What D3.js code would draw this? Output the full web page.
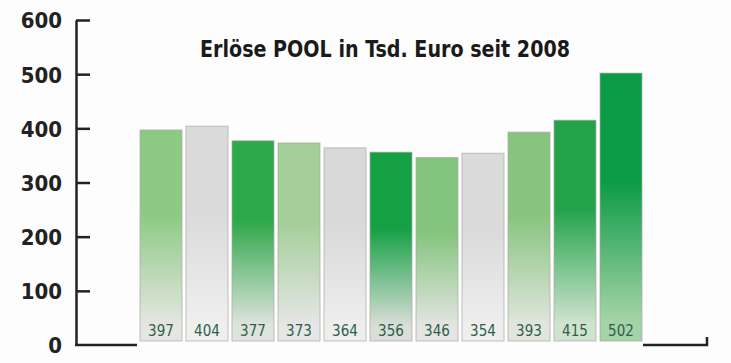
<!DOCTYPE html>
<html>
<head>
<meta charset="utf-8">
<script src="https://cdn.jsdelivr.net/npm/d3@7"></script>
<style>
  html, body { margin: 0; padding: 0; background: #fdfdfd; }
  svg { display: block; }
</style>
</head>
<body>
<div id="chart"></div>
<script>
const years = ["2008", "2009", "2010", "2011", "2012", "2013", "2014", "2015", "2016", "2017", "2018"];
const values = [397, 404, 377, 373, 364, 356, 346, 354, 393, 415, 502];
const yTicks = [0, 100, 200, 300, 400, 500, 600];
const title = "Erlöse POOL in Tsd. Euro seit 2008";

// top / bottom gradient colour of each bar
const topColors = ["#8cca84", "#dadada", "#2ea84a", "#a4cf98", "#d9d9d9", "#14a043", "#82c47c", "#dadada", "#87c57f", "#22a34a", "#0b9a45"];
const bottomColors = ["#e4e6e1", "#efefef", "#dfe3dd", "#e6e6e6", "#eeeeee", "#d9ded8", "#e4e5e2", "#eeeeee", "#e1e5dd", "#cfe3cf", "#a3d3a6"];

const width = 731, height = 363;

const svg = d3.select("#chart")
  .append("svg")
  .attr("width", width)
  .attr("height", height);

const x = d3.scaleBand()
  .domain(years)
  .range([138, 644])
  .paddingInner(4 / 46)
  .paddingOuter(2 / 46);

const y = d3.scaleLinear().domain([0, 600]).range([345, 20]);

const font = "'DejaVu Sans Condensed', 'Liberation Sans Narrow', sans-serif";

// gradients
const defs = svg.append("defs");
const grads = defs.selectAll("linearGradient")
  .data(years)
  .join("linearGradient")
  .attr("id", (d, i) => `g${i}`)
  .attr("x1", 0).attr("y1", 0).attr("x2", 0).attr("y2", 1);
grads.append("stop").attr("offset", "0%").attr("stop-color", (d, i) => topColors[i]);
grads.append("stop").attr("offset", "40%").attr("stop-color", (d, i) => topColors[i]);
grads.append("stop").attr("offset", "92%").attr("stop-color", (d, i) => bottomColors[i]);
grads.append("stop").attr("offset", "100%").attr("stop-color", (d, i) => bottomColors[i]);

// bars
svg.append("g")
  .selectAll("rect")
  .data(values)
  .join("rect")
  .attr("x", (d, i) => x(years[i]))
  .attr("y", (d) => y(d))
  .attr("width", x.bandwidth())
  .attr("height", (d) => y(0) - y(d) - 4)
  .attr("fill", (d, i) => `url(#g${i})`)
  .attr("stroke", "#a8aaa6")
  .attr("stroke-opacity", 0.7)
  .attr("stroke-width", 1);

// value labels
svg.append("g")
  .selectAll("text")
  .data(values)
  .join("text")
  .attr("x", (d, i) => x(years[i]) + x.bandwidth() / 2)
  .attr("y", 336)
  .attr("text-anchor", "middle")
  .attr("font-family", font)
  .attr("font-size", 15)
  .attr("fill", "#2f5f4a")
  .text((d) => d);

// y axis
const yAxis = svg.append("g")
  .attr("transform", "translate(76,0)")
  .call(d3.axisLeft(y).tickValues(yTicks).tickSizeInner(-14).tickSizeOuter(0).tickPadding(14));
yAxis.select(".domain").attr("stroke", "#222").attr("stroke-width", 2.5);
yAxis.selectAll(".tick line").attr("stroke", "#222").attr("stroke-width", 2.5);
yAxis.selectAll(".tick")
  .filter((d) => d === 0)
  .select("line").remove();
yAxis.selectAll(".tick text")
  .attr("font-family", font)
  .attr("font-weight", "bold")
  .attr("font-size", 22)
  .attr("fill", "#222")
  .attr("dy", "0.36em");

// baseline pieces left and right of the bars
const lastX = x(years[years.length - 1]) + x.bandwidth();
svg.append("path")
  .attr("d", `M75,${y(0)}H${x(years[0]) - 3}`)
  .attr("stroke", "#222").attr("stroke-width", 2.5).attr("fill", "none");
svg.append("path")
  .attr("d", `M${lastX + 1},${y(0)}H707V${y(0) - 8}`)
  .attr("stroke", "#222").attr("stroke-width", 2.5).attr("fill", "none");

// title
svg.append("text")
  .attr("x", 385)
  .attr("y", 57)
  .attr("text-anchor", "middle")
  .attr("font-family", font)
  .attr("font-weight", "bold")
  .attr("font-size", 23)
  .attr("fill", "#1a1a1a")
  .attr("textLength", 370)
  .attr("lengthAdjust", "spacingAndGlyphs")
  .text(title);
</script>
</body>
</html>
